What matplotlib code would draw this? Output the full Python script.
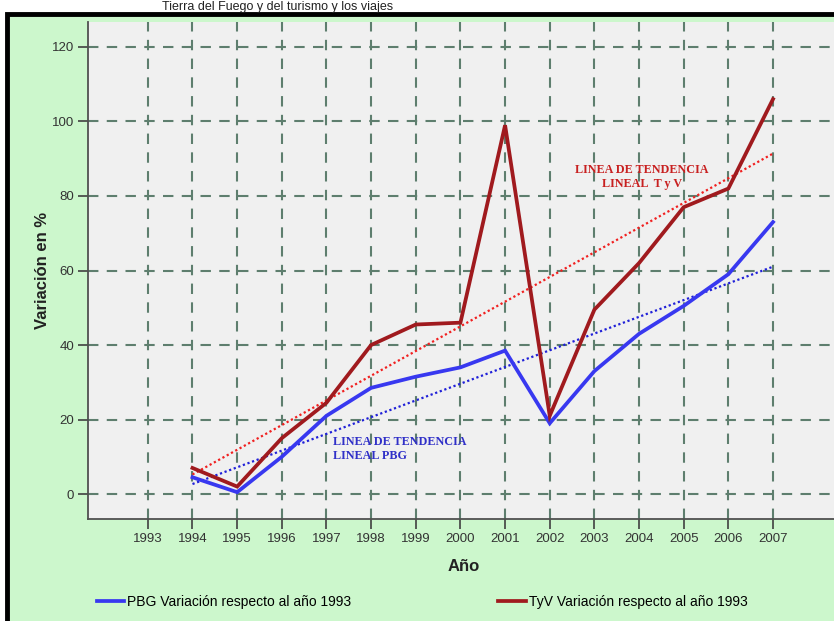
import numpy as np
import matplotlib
matplotlib.use('Agg')
import matplotlib.pyplot as plt
from matplotlib.patches import Rectangle

# data
years = [1994, 1995, 1996, 1997, 1998, 1999, 2000, 2001, 2002, 2003, 2004, 2005, 2006, 2007]
pbg = [4.5, 0.5, 10, 21, 28.5, 31.5, 34, 38.5, 19, 33, 43, 50.5, 59, 73]
tyv = [7, 2, 15, 24.5, 40, 45.5, 46, 99, 21, 49.5, 62, 77, 82, 106]
year_ticks = list(range(1993, 2008))
y_ticks = [0, 20, 40, 60, 80, 100, 120]

plt.rcParams['font.family'] = ['Liberation Sans', 'DejaVu Sans']

fig = plt.figure(figsize=(8.34, 6.21), dpi=100)
fig.patch.set_facecolor('white')

# green panel with black frame
W, H = 834.0, 621.0
panel = Rectangle((7 / W, -0.05), 1.1, (607 / H) + 0.05, transform=fig.transFigure,
                  facecolor='#CCF7CC', edgecolor='black', linewidth=3.5, zorder=-10)
fig.patches.append(panel)

# title strip at the very top
fig.text(393 / W, 1 - 1 / H, 'Tierra del Fuego y del turismo y los viajes', ha='right', va='top',
         fontsize=9, color='#222222')

ax = fig.add_axes([88 / W, 102 / H, 752 / W, 497 / H])
ax.set_facecolor('#F0F0F0')

x = np.array(years)
ax.plot(years, pbg, color='#3838F0', lw=2.7, zorder=4, solid_joinstyle='miter',
        label='PBG Variación respecto al año 1993')
ax.plot(years, tyv, color='#A01A1E', lw=2.7, zorder=5, solid_joinstyle='miter',
        label='TyV Variación respecto al año 1993')

# linear trend lines
bp = np.polyfit(x, pbg, 1)
rp = np.polyfit(x, tyv, 1)
ax.plot(years, np.polyval(bp, x), color='#2020D8', lw=1.6, ls=(0, (1, 1.2)), zorder=3)
ax.plot(years, np.polyval(rp, x), color='#F02020', lw=1.6, ls=(0, (1, 1.2)), zorder=3)

ax.text(2004.07, 85.1, 'LINEA DE TENDENCIA\nLINEAL  T y V', color='#C82020', fontsize=8.7,
        fontweight='bold', family='Liberation Serif', ha='center', va='center', linespacing=1.15)
ax.text(1997.14, 12.1, 'LINEA DE TENDENCIA\nLINEAL PBG', color='#3030C8', fontsize=8.7,
        fontweight='bold', family='Liberation Serif', ha='left', va='center', linespacing=1.15)

ax.set_xlim(1991.66, 2008.5)
ax.set_ylim(-6.7, 126.7)
ax.set_xticks(year_ticks)
ax.set_xticklabels([str(y) for y in year_ticks])
ax.set_yticks(y_ticks)
ax.tick_params(axis='both', direction='out', length=7, width=1.2, color='#404040',
               labelsize=9.5, labelcolor='#333333', pad=3)
ax.grid(True, color='#5E7E6E', ls=(0, (5, 4)), lw=1.5, zorder=1)
ax.set_axisbelow(True)
for s in ['right', 'top']:
    ax.spines[s].set_visible(False)
for s in ['left', 'bottom']:
    ax.spines[s].set_color('#505050')
    ax.spines[s].set_linewidth(1.3)

ax.set_xlabel('Año', fontsize=12, fontweight='bold', color='#222222', labelpad=10)
ax.set_ylabel('Variación en %', fontsize=12, fontweight='bold', color='#222222', labelpad=1)

fig.legend(loc='center left', bbox_to_anchor=(84 / W, 1 - 602 / H), ncol=2, frameon=False,
           fontsize=10, handlelength=2.0, handletextpad=0.2, columnspacing=10.6)

fig.savefig('out.png', dpi=100, facecolor=fig.get_facecolor())
